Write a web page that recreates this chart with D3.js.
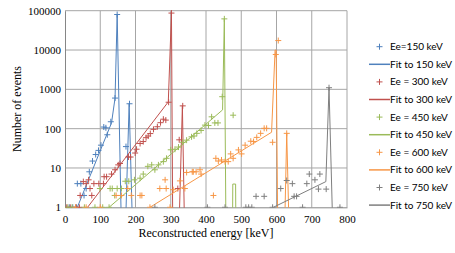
<!DOCTYPE html>
<html><head><meta charset="utf-8">
<script src="https://cdn.jsdelivr.net/npm/d3@7"></script>
<style>body{margin:0;background:#fff}svg{display:block}</style>
</head><body><svg id="c" width="455" height="253"></svg>
<script>
// ---- data ----
const xTicks = [0,100,200,300,400,500,600,700,800];
const yTicks = [1,10,100,1000,10000,100000];
const seriesNames = ["Ee=150 keV","Ee = 300 keV","Ee = 450 keV","Ee = 600 keV","Ee = 750 keV"];
const fitNames = ["Fit to 150 keV","Fit to 300 keV","Fit to 450 keV","Fit to 600 keV","Fit to 750 keV"];
const colors = ["#4F81BD","#C0504D","#9BBB59","#F79646","#7F7F7F"];

const pts150 = [[12,1],[22,1],[33,1],[35,4],[45,4],[54,2],[60,3],[69,8],[78,15],[87,22],[95,28],[102,38],[110,110],[116,105],[120,70],[130,150],[142,600],[148,80000],[173,35],[183,430]];
const pts300 = [[5,1],[15,1],[31,1],[41,1],[43,2],[52,4.5],[60,4],[67,5],[71,3],[76,2],[82,4],[96,4],[109,4],[111,6],[118,6],[132,7],[142,9],[151,12],[156,13],[180,19],[186,19],[199,24],[203,30],[213,42],[222,47],[230,59],[236,65],[242,75],[251,96],[262,112],[271,142],[279,174],[286,165],[294,470],[302,87000],[320,3],[324,52],[334,380]];
const pts450 = [[8,1],[20,1],[55,1],[85,1],[107,1],[125,1],[99,3],[128,3],[134,3],[141,2],[148,3],[160,3],[171,4.6],[181,4.6],[197,5],[213,5.5],[222,7],[235,11],[246,12],[255,9],[265,12],[279,14.5],[288,17.6],[300,29],[312,30],[322,34],[334,45],[345,51],[359,62],[366,65],[374,76],[386,90],[397,123],[407,120],[416,200],[425,140],[434,140],[446,650],[452,62000],[477,220]];
const pts600 = [[30,1],[60,1],[100,1],[145,2],[160,2],[178,3],[188,2],[213,2],[218,2],[241,1],[269,3],[284,5],[287,3],[298,1],[307,2.8],[326,4.7],[340,3],[345,7.7],[361,8],[364,8],[372,8],[383,9],[386,7],[421,2],[428,17.6],[435,15],[444,16],[454,14.5],[463,14.5],[470,22.8],[477,17.6],[492,28.8],[501,22.8],[511,38],[527,48],[535,47],[544,60],[555,76],[565,102],[572,102],[589,45],[598,7700],[605,17400],[629,76]];
const pts750 = [[255,1],[404,1],[454,1],[513,1],[521,1],[530,1],[589,1],[674,1],[780,1],[542,1.9],[565,1.9],[612,3],[629,4.8],[645,4],[650,1.9],[657,1.9],[686,4],[693,7],[709,5],[719,2.9],[723,7],[741,2.9],[749,1100]];

const fit150 = [[35,1],[132,140],[142,600],[148,80000],[161,0.1],[170,0.1],[182,430],[193,0.1]];
const fit300 = [[64,1],[293,480],[302,87000],[306,0.1],[322,0.1],[333,380],[340,0.1]];
const fit450 = [[125,1],[447,300],[452,62000],[457,0.1],[475,0.1],[476,3.9],[484,3.9],[485,0.1]];
const fit600 = [[241,1],[586,81],[596,10000],[599,10000],[604,0.1],[622,0.1],[629,76],[637,0.1]];
const fit750 = [[591,1],[740,4.5],[749,1100],[761,0.1]];

const pointSets = [pts150,pts300,pts450,pts600,pts750];
const fitSets = [fit150,fit300,fit450,fit600,fit750];

// ---- chart ----
const svg = d3.select("#c");
const x = d3.scaleLinear().domain([0,800]).range([65,347]);
const y = d3.scaleLog().domain([1,100000]).range([207.3,10.7]);

svg.append("defs").append("clipPath").attr("id","clip")
  .append("rect").attr("x",x(0)).attr("y",y(100000)-1).attr("width",x(800)-x(0)).attr("height",y(1)-y(100000)+1.5);

const grid = svg.append("g");
grid.selectAll("line.v").data(xTicks.slice(1)).join("line")
  .attr("x1",d=>x(d)).attr("x2",d=>x(d)).attr("y1",y(1)).attr("y2",y(100000))
  .attr("stroke","#a6a6a6").attr("stroke-width",1);
grid.selectAll("line.h").data(yTicks.slice(1)).join("line")
  .attr("x1",x(0)).attr("x2",x(800)).attr("y1",d=>y(d)).attr("y2",d=>y(d))
  .attr("stroke","#a6a6a6").attr("stroke-width",1);

const xAxis = d3.axisBottom(x).tickValues(xTicks).tickSize(0).tickPadding(8).tickFormat(d3.format("d"));
const gx = svg.append("g").attr("transform",`translate(0,${y(1)})`).call(xAxis);
const yAxis = d3.axisLeft(y).tickValues(yTicks).tickSize(0).tickPadding(4).tickFormat(d3.format("d"));
const gy = svg.append("g").attr("transform",`translate(${x(0)},0)`).call(yAxis);
[gx,gy].forEach(g=>{
  g.select(".domain").attr("stroke","#868686");
  g.selectAll(".tick line").remove();
  g.selectAll(".tick text").attr("font-family","'Liberation Serif',serif").attr("font-size","11px").attr("fill","#000");
});

svg.append("text").attr("x",206).attr("y",237).attr("text-anchor","middle")
  .attr("font-family","'Liberation Serif',serif").attr("font-size","12px").text("Reconstructed energy [keV]");
svg.append("text").attr("transform","translate(21,109) rotate(-90)").attr("text-anchor","middle")
  .attr("font-family","'Liberation Serif',serif").attr("font-size","12px").text("Number of events");

const plot = svg.append("g").attr("clip-path","url(#clip)");
const line = d3.line().x(d=>x(d[0])).y(d=>y(d[1]));
const plus = "M-3,0H3M0,-3V3";
pointSets.forEach((pts,i)=>{
  plot.append("g").selectAll("path").data(pts).join("path")
    .attr("d",plus).attr("transform",d=>`translate(${x(d[0])},${y(d[1])})`)
    .attr("stroke",colors[i]).attr("stroke-width",1).attr("fill","none");
  plot.append("path").datum(fitSets[i]).attr("d",line)
    .attr("fill","none").attr("stroke",colors[i]).attr("stroke-width",1);
});

// legend
const leg = svg.append("g");
const rowY = d3.range(10).map(k=>46.7+k*17.6);
seriesNames.forEach((n,i)=>{
  const g1 = leg.append("g").attr("transform",`translate(0,${rowY[2*i]})`);
  g1.append("path").attr("d",plus).attr("transform","translate(379.5,0)").attr("stroke",colors[i]).attr("stroke-width",1);
  g1.append("text").attr("x",390).attr("y",0).attr("dy","0.35em").attr("font-family","Lato,sans-serif").attr("font-size","10px").text(n);
  const g2 = leg.append("g").attr("transform",`translate(0,${rowY[2*i+1]})`);
  g2.append("line").attr("x1",369).attr("x2",390).attr("stroke",colors[i]).attr("stroke-width",1.5);
  g2.append("text").attr("x",390).attr("y",0).attr("dy","0.35em").attr("font-family","Lato,sans-serif").attr("font-size","10px").text(fitNames[i]);
});
</script></body></html>
